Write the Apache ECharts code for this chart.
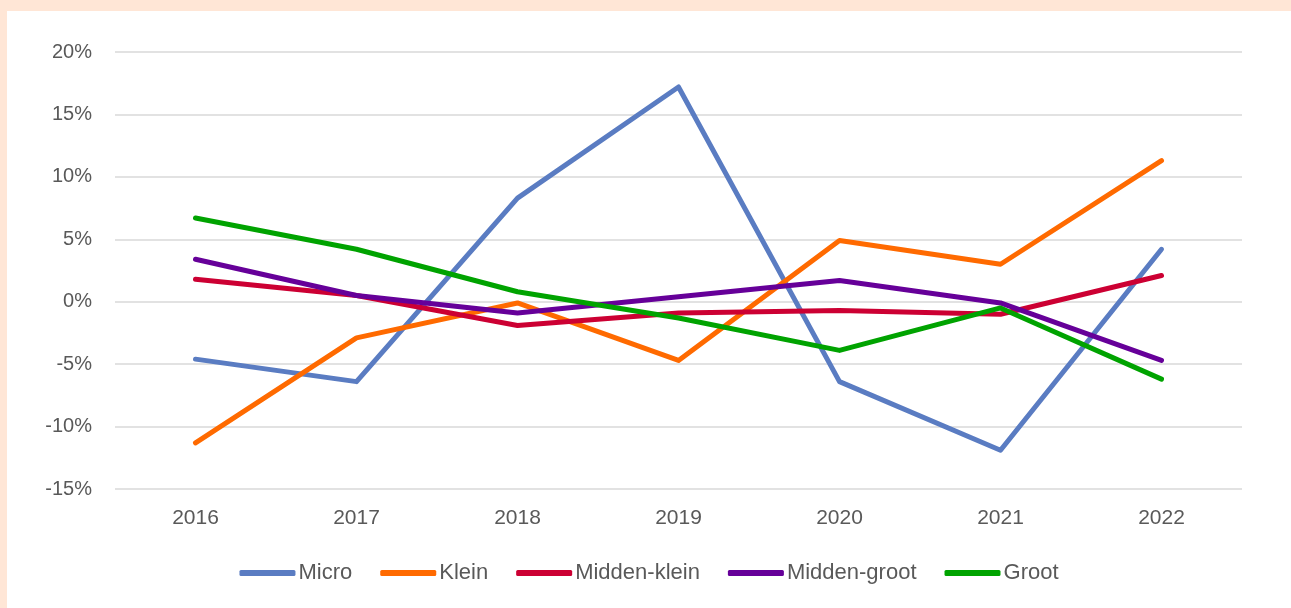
<!DOCTYPE html>
<html>
<head>
<meta charset="utf-8">
<script src="https://cdn.jsdelivr.net/npm/echarts@6/dist/echarts.min.js"></script>
<style>
  html, body { margin: 0; padding: 0; width: 1291px; height: 608px; background: #FFE6D6; overflow: hidden; }
  #panel { position: absolute; left: 7px; top: 11px; width: 1284px; height: 597px; background: #FFFFFF; }
</style>
</head>
<body>
<div id="panel"></div>
<script>
// Yearly change per company size class (%)
const years = ['2016', '2017', '2018', '2019', '2020', '2021', '2022'];
const micro = [-4.6, -6.4, 8.3, 17.2, -6.4, -11.9, 4.2];
const klein = [-11.3, -2.9, -0.1, -4.7, 4.9, 3.0, 11.3];
const middenKlein = [1.8, 0.5, -1.9, -0.9, -0.7, -1.0, 2.1];
const middenGroot = [3.4, 0.5, -0.9, 0.4, 1.7, -0.1, -4.7];
const groot = [6.7, 4.2, 0.8, -1.3, -3.9, -0.5, -6.2];

const seriesNames = ['Micro', 'Klein', 'Midden-klein', 'Midden-groot', 'Groot'];
const seriesData = [micro, klein, middenKlein, middenGroot, groot];
const colors = ['#5A7CC2', '#FF6A00', '#CC0033', '#660099', '#00A300'];

const chart = echarts.init(document.getElementById('panel'), null, { renderer: 'canvas' });

chart.setOption({
  animation: false,
  color: colors,
  textStyle: { fontFamily: 'Liberation Sans, Arial, sans-serif' },
  grid: { left: 108, right: 49, top: 41, bottom: 119 },
  legend: {
    bottom: 19,
    left: 'center',
    itemGap: 28,
    itemWidth: 56,
    itemHeight: 6,
    icon: 'roundRect',
    textStyle: { color: '#595959', fontSize: 22, padding: [0, 0, 0, -2] },
    data: seriesNames
  },
  xAxis: {
    type: 'category',
    data: years,
    boundaryGap: true,
    axisLine: { show: false },
    axisTick: { show: false },
    axisLabel: { color: '#595959', fontSize: 21, margin: 19 }
  },
  yAxis: {
    type: 'value',
    min: -15,
    max: 20,
    interval: 5,
    axisLine: { show: false },
    axisTick: { show: false },
    axisLabel: { color: '#595959', fontSize: 20, margin: 23, formatter: '{value}%' },
    splitLine: { lineStyle: { color: '#D9D9D9', width: 1.5 } }
  },
  series: seriesNames.map((name, i) => ({
    name: name,
    type: 'line',
    data: seriesData[i],
    showSymbol: false,
    symbol: 'none',
    lineStyle: { width: 5, cap: 'round', join: 'round' }
  }))
});
</script>
</body>
</html>
